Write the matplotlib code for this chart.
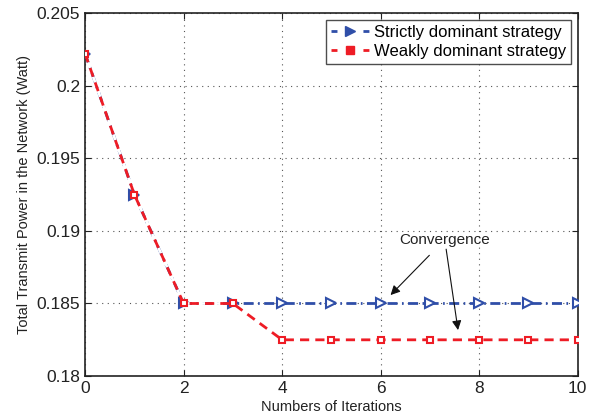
import matplotlib
matplotlib.use("Agg")
import matplotlib.pyplot as plt
from matplotlib.lines import Line2D

plt.rcParams['font.family'] = ['Liberation Sans', 'DejaVu Sans']

iterations = [0, 1, 2, 3, 4, 5, 6, 7, 8, 9, 10]
strict_vals = [0.2022, 0.1925, 0.185, 0.185, 0.185, 0.185, 0.185, 0.185, 0.185, 0.185, 0.185]
weak_vals = [0.2022, 0.1925, 0.185, 0.185, 0.1825, 0.1825, 0.1825, 0.1825, 0.1825, 0.1825, 0.1825]
xticks = [0, 2, 4, 6, 8, 10]
yticks = [0.18, 0.185, 0.19, 0.195, 0.2, 0.205]
ytick_labels = ['0.18', '0.185', '0.19', '0.195', '0.2', '0.205']
series_labels = ['Strictly dominant strategy', 'Weakly dominant strategy']

fig = plt.figure(figsize=(5.95, 4.17), dpi=100)
ax = fig.add_axes([0.143, 0.098, 0.828, 0.871])

blue = '#2f4ea8'
red = '#ee1c25'
ax.plot(iterations, strict_vals, linestyle='-.', dashes=(3.6, 1.6, 0.6, 1.6), color=blue, linewidth=2,
        marker='>', markersize=6.5, markerfacecolor='white', markeredgecolor=blue,
        markeredgewidth=1.5, zorder=3)
ax.plot(iterations, weak_vals, linestyle='--', dashes=(3.3, 2.2), color=red, linewidth=2,
        gapcolor='white', marker='s', markersize=5, markerfacecolor='white',
        markeredgecolor=red, markeredgewidth=1.5, zorder=4)

ax.set_xlim(0, 10)
ax.set_ylim(0.18, 0.205)
ax.set_xticks(xticks)
ax.set_yticks(yticks)
ax.set_yticklabels(ytick_labels)
ax.tick_params(labelsize=12.5, direction='in', top=True, right=True, length=4, colors='#222222')
ax.grid(True, linestyle=(0, (1, 4)), color='#555555', linewidth=0.8)
for s in ax.spines.values():
    s.set_linewidth(1.2)
    s.set_color('#222222')

ax.set_xlabel('Numbers of Iterations', fontsize=10.5, labelpad=3, color='#222222')
ax.set_ylabel('Total Transmit Power in the Network (Watt)', fontsize=10.5, labelpad=4, color='#222222')

handles = [
    Line2D([], [], linestyle=(0, (2.15, 9.35)), color=blue, linewidth=2, marker='>',
           markersize=7, markerfacecolor=blue, markeredgecolor=blue),
    Line2D([], [], linestyle=(0, (2.15, 9.35)), color=red, linewidth=2, marker='s',
           markersize=6, markerfacecolor=red, markeredgecolor=red),
]
leg = ax.legend(handles, series_labels, loc='upper right', fontsize=12, frameon=True,
                fancybox=False, borderpad=0.3, handlelength=2.3, handletextpad=0.25,
                labelspacing=0.25, borderaxespad=0.4)
leg.get_frame().set_edgecolor('#222222')
leg.get_frame().set_linewidth(1.0)
leg.set_zorder(10)

ax.annotate('Convergence', xy=(6.2, 0.18558), xytext=(7.3, 0.1894),
            ha='center', va='center', fontsize=11, color='#222222',
            arrowprops=dict(arrowstyle='-|>', color='#111111', lw=0.8, mutation_scale=14,
                            shrinkA=6, shrinkB=0))
ax.annotate('', xy=(7.57, 0.18317), xytext=(7.3, 0.1894),
            arrowprops=dict(arrowstyle='-|>', color='#111111', lw=0.8, mutation_scale=14,
                            shrinkA=7, shrinkB=0))

fig.savefig('out.png', dpi=100)
